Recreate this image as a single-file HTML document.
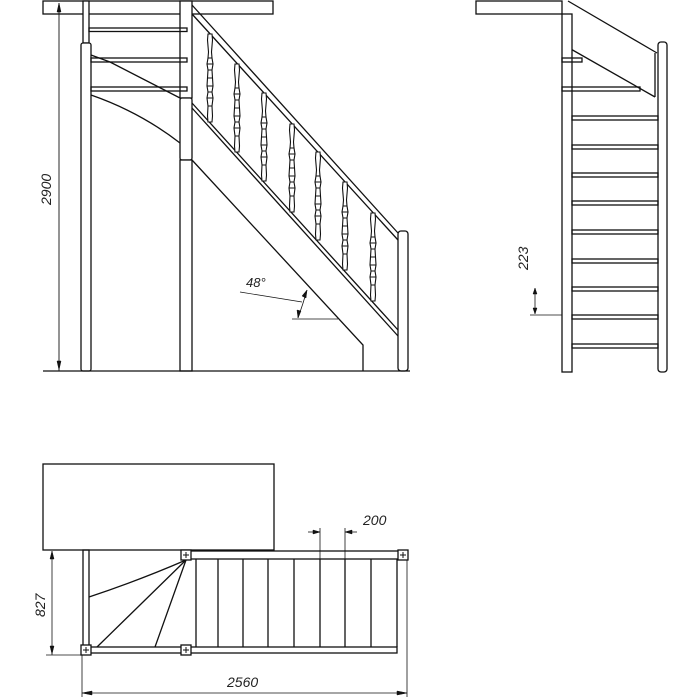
<!DOCTYPE html>
<html><head><meta charset="utf-8"><style>
html,body{margin:0;padding:0;background:#fff;}
svg{display:block;}
text{font-family:"Liberation Sans",sans-serif;font-style:italic;fill:#222;}
</style></head><body>
<svg width="700" height="700" viewBox="0 0 700 700" xmlns="http://www.w3.org/2000/svg">
<defs>
<g id="bal">
  <path d="M-2,0 L2,0 L2.5,6 L1.5,18 L2,24 L3,30 L2,36 L2.5,44 L3,52 L2,58 L3,64 L2,72 L2.5,82 L2,88 L-2,88 L-2.5,82 L-2,72 L-3,64 L-2,58 L-3,52 L-2.5,44 L-2,36 L-3,30 L-2,24 L-1.5,18 L-2.5,6 Z" fill="#fff" stroke="#111" stroke-width="1.1"/>
  <g stroke="#111" stroke-width="1">
  <line x1="-2" y1="24" x2="2" y2="24"/>
  <line x1="-3" y1="30" x2="3" y2="30"/>
  <line x1="-2" y1="36" x2="2" y2="36"/>
  <line x1="-2" y1="44" x2="2" y2="44"/>
  <line x1="-3" y1="52" x2="3" y2="52"/>
  <line x1="-2" y1="58" x2="2" y2="58"/>
  <line x1="-3" y1="64" x2="3" y2="64"/>
  <line x1="-2" y1="72" x2="2" y2="72"/>
  </g>
</g>
<g id="sq">
  <rect x="0" y="0" width="10" height="10" fill="#fff" stroke="#111" stroke-width="1.3"/>
  <path d="M5,2 v6 M2,5 h6" stroke="#111" stroke-width="1"/>
</g>
</defs>
<g stroke="#111" stroke-width="1.3" fill="none">
<!-- SIDE VIEW -->
<rect x="43" y="1" width="230" height="13" fill="#fff"/>
<rect x="83" y="1" width="6" height="42" fill="#fff"/>
<rect x="81" y="43" width="10" height="328" rx="2" fill="#fff"/>
<rect x="180" y="1" width="12" height="97" fill="#fff"/>
<rect x="180" y="98" width="12" height="62" rx="2" fill="#fff"/>
<rect x="180" y="160" width="12" height="211" fill="#fff"/>
<rect x="89" y="28" width="98" height="3.5"/>
<rect x="91" y="58" width="96" height="4"/>
<rect x="91" y="87" width="96" height="4"/>
<path d="M91,55 L110,62 L180,98"/>
<path d="M91,95 Q140,112 180,143"/>
<!-- handrail -->
<line x1="192" y1="5" x2="398" y2="233"/>
<line x1="192" y1="14" x2="398" y2="240"/>
<rect x="398" y="231" width="10" height="140" rx="3" fill="#fff"/>
<!-- stringer -->
<line x1="192" y1="103" x2="398" y2="330"/>
<line x1="192" y1="108" x2="398" y2="336"/>
<polyline points="192,160 363,345 363,371"/>
<line x1="43" y1="371" x2="410" y2="371"/>
<!-- dims side -->
<line x1="59" y1="3" x2="59" y2="371" stroke-width="0.9"/>
<path d="M59,3 l-2,9 l4,0 z M59,370 l-2,-9 l4,0 z" fill="#111" stroke-width="0.5"/>
<line x1="240" y1="292" x2="302" y2="302" stroke-width="0.7"/>
<line x1="292" y1="319" x2="338" y2="319" stroke-width="0.7"/>
<path d="M307,290 Q303,304 298,318" stroke-width="0.8"/>
<path d="M307,290 l-1,8 l-4,-2 z M298,318 l-1,-8 l4,1 z" fill="#111" stroke-width="0.5"/>
<!-- RIGHT VIEW -->
<rect x="476" y="1" width="86" height="13" fill="#fff"/>
<line x1="568" y1="1" x2="657" y2="53"/>
<line x1="562" y1="44" x2="655" y2="97"/>
<line x1="655" y1="53" x2="655" y2="97"/>
<rect x="562" y="14" width="10" height="358" fill="#fff"/>
<rect x="658" y="42" width="9" height="330" rx="3" fill="#fff"/>
<rect x="562" y="58" width="20" height="4"/>
<rect x="562" y="87" width="78" height="4"/>
<g>
<rect x="572" y="116" width="86" height="4"/>
<rect x="572" y="145" width="86" height="4"/>
<rect x="572" y="173" width="86" height="4"/>
<rect x="572" y="201" width="86" height="4"/>
<rect x="572" y="230" width="86" height="4"/>
<rect x="572" y="259" width="86" height="4"/>
<rect x="572" y="287" width="86" height="4"/>
<rect x="572" y="315" width="86" height="4"/>
<rect x="572" y="344" width="86" height="4"/>
</g>
<line x1="530" y1="315" x2="562" y2="315" stroke-width="0.8"/>
<line x1="535" y1="288" x2="535" y2="314" stroke-width="0.8"/>
<path d="M535,288 l-2,6 l4,0 z M535,314 l-2,-6 l4,0 z" fill="#111" stroke-width="0.5"/>
<!-- PLAN -->
<rect x="43" y="464" width="231" height="86" fill="#fff"/>
<rect x="83" y="550" width="6" height="100"/>
<rect x="186" y="551" width="221" height="8"/>
<rect x="86" y="647" width="311" height="6"/>
<line x1="196" y1="559" x2="196" y2="647"/>
<line x1="218" y1="559" x2="218" y2="647"/>
<line x1="243" y1="559" x2="243" y2="647"/>
<line x1="268" y1="559" x2="268" y2="647"/>
<line x1="294" y1="559" x2="294" y2="647"/>
<line x1="320" y1="559" x2="320" y2="647"/>
<line x1="345" y1="559" x2="345" y2="647"/>
<line x1="371" y1="559" x2="371" y2="647"/>
<line x1="397" y1="559" x2="397" y2="647"/>
<path d="M186,560 Q140,580 89,597"/>
<line x1="186" y1="560" x2="97" y2="647"/>
<line x1="186" y1="560" x2="155" y2="647"/>
<!-- dims plan -->
<line x1="320" y1="528" x2="320" y2="559" stroke-width="0.8"/>
<line x1="345" y1="528" x2="345" y2="559" stroke-width="0.8"/>
<line x1="308" y1="532" x2="320" y2="532" stroke-width="0.8"/>
<line x1="345" y1="532" x2="357" y2="532" stroke-width="0.8"/>
<path d="M320,532 l-7,-2 l0,4 z M345,532 l7,-2 l0,4 z" fill="#111" stroke-width="0.5"/>
<line x1="52" y1="551" x2="52" y2="655" stroke-width="0.8"/>
<line x1="46" y1="655" x2="82" y2="655" stroke-width="0.8"/>
<path d="M52,551 l-2,8 l4,0 z M52,654 l-2,-8 l4,0 z" fill="#111" stroke-width="0.5"/>
<line x1="82" y1="655" x2="82" y2="697" stroke-width="0.8"/>
<line x1="407" y1="560" x2="407" y2="697" stroke-width="0.8"/>
<line x1="82" y1="693" x2="407" y2="693" stroke-width="0.8"/>
<path d="M82,693 l10,-2 l0,4 z M407,693 l-10,-2 l0,4 z" fill="#111" stroke-width="0.5"/>
</g>
<use href="#sq" x="181" y="550"/>
<use href="#sq" x="398" y="550"/>
<use href="#sq" x="81" y="645"/>
<use href="#sq" x="181" y="645"/>
<!-- balusters -->
<use href="#bal" x="210" y="34"/>
<use href="#bal" x="237" y="64"/>
<use href="#bal" x="264" y="93"/>
<use href="#bal" x="292" y="124"/>
<use href="#bal" x="318" y="152"/>
<use href="#bal" x="345" y="182"/>
<use href="#bal" x="373" y="213"/>
<!-- text -->
<text x="0" y="0" font-size="14" transform="translate(51,205) rotate(-90)">2900</text>
<text x="246" y="287" font-size="13">48°</text>
<text x="0" y="0" font-size="14" transform="translate(528,270) rotate(-90)">223</text>
<text x="0" y="0" font-size="14" transform="translate(45,617) rotate(-90)">827</text>
<text x="363" y="525" font-size="14">200</text>
<text x="227" y="687" font-size="14">2560</text>
</svg>
</body></html>
